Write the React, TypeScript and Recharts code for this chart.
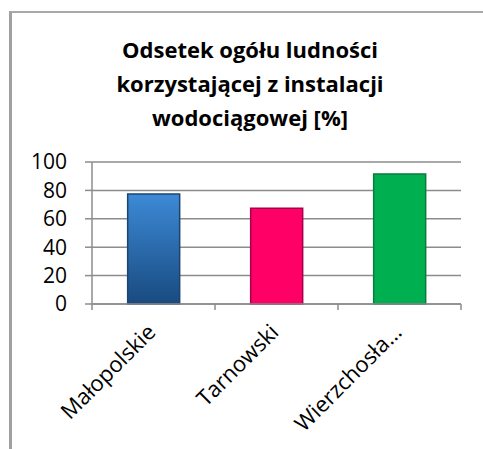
import React from 'react';
import { BarChart, Bar, XAxis, YAxis, CartesianGrid, Cell } from 'recharts';

const categories = ['Małopolskie', 'Tarnowski', 'Wierzchosła…'];
const values = [77.5, 67.5, 91.5];
const yTicks = [0, 20, 40, 60, 80, 100];
const titleLines = ['Odsetek ogółu ludności', 'korzystającej z instalacji', 'wodociągowej [%]'];

const data = categories.map((name, i) => ({ name, value: values[i] }));

const fills = ['url(#gradBlue)', '#ff0066', '#00b050'];
const strokes = ['#1b4470', '#a8004a', '#0b7a3e'];

const font = '"Open Sans", Lato, sans-serif';
const gridColor = '#8c8c8c';

// category tick: rotated label + tick marks at the category boundaries
const XTick = (props: any) => {
  const { x, y, payload, index } = props;
  const off = Number(payload?.offset);
  const half = off > 0 ? off : 61.5;
  const last = index === categories.length - 1;
  const y0 = y - 2;
  return (
    <g>
      <line x1={x - half} y1={y0} x2={x - half} y2={y0 + 6} stroke={gridColor} strokeWidth={1.5} />
      {last && <line x1={x + half} y1={y0} x2={x + half} y2={y0 + 6} stroke={gridColor} strokeWidth={1.5} />}
      <text
        x={x}
        y={y}
        dy={22}
        dx={-17}
        textAnchor="end"
        fontSize={22}
        fontFamily={font}
        fill="#000"
        transform={`rotate(-45, ${x}, ${y})`}
      >
        {payload.value}
      </text>
    </g>
  );
};

const App: React.FC = () => {
  return (
    <div style={{ position: 'absolute', left: 0, top: 0, width: 483, height: 449, background: '#fff', overflow: 'hidden' }}>
      <div
        style={{
          position: 'absolute',
          left: 9,
          top: 11,
          width: 480,
          height: 440,
          borderLeft: '3px solid #a0a0a0',
          borderTop: '2px solid #a8a8a8',
        }}
      />
      <div
        style={{
          position: 'absolute',
          left: 0,
          top: 32,
          width: 500,
          textAlign: 'center',
          fontFamily: font,
          fontWeight: 'bold',
          fontSize: 22,
          lineHeight: '34px',
          color: '#000',
        }}
      >
        {titleLines.map(t => (
          <div key={t}>{t}</div>
        ))}
      </div>
      <div style={{ position: 'absolute', left: 0, top: 0 }}>
        <BarChart
          width={483}
          height={449}
          data={data}
          margin={{ top: 162, right: 22, bottom: 0, left: 0 }}
          barCategoryGap="29%"
        >
          <defs>
            <linearGradient id="gradBlue" x1="0" y1="0" x2="0" y2="1">
              <stop offset="0%" stopColor="#3d8ad6" />
              <stop offset="100%" stopColor="#184a80" />
            </linearGradient>
          </defs>
          <CartesianGrid vertical={false} stroke={gridColor} strokeWidth={1.5} />
          <XAxis
            dataKey="name"
            height={145}
            interval={0}
            tickLine={false}
            tickSize={0}
            axisLine={{ stroke: gridColor, strokeWidth: 1.5 }}
            tick={<XTick />}
          />
          <YAxis
            width={92}
            domain={[0, 100]}
            ticks={yTicks}
            interval={0}
            tickSize={7}
            tickMargin={18}
            tick={{ fontSize: 21, fill: '#000', fontFamily: font }}
            tickLine={{ stroke: gridColor, strokeWidth: 1.5 }}
            axisLine={{ stroke: gridColor, strokeWidth: 1.5 }}
          />
          <Bar dataKey="value" isAnimationActive={false} strokeWidth={1.5}>
            {data.map((d, i) => (
              <Cell key={d.name} fill={fills[i]} stroke={strokes[i]} />
            ))}
          </Bar>
        </BarChart>
      </div>
    </div>
  );
};

export default App;
